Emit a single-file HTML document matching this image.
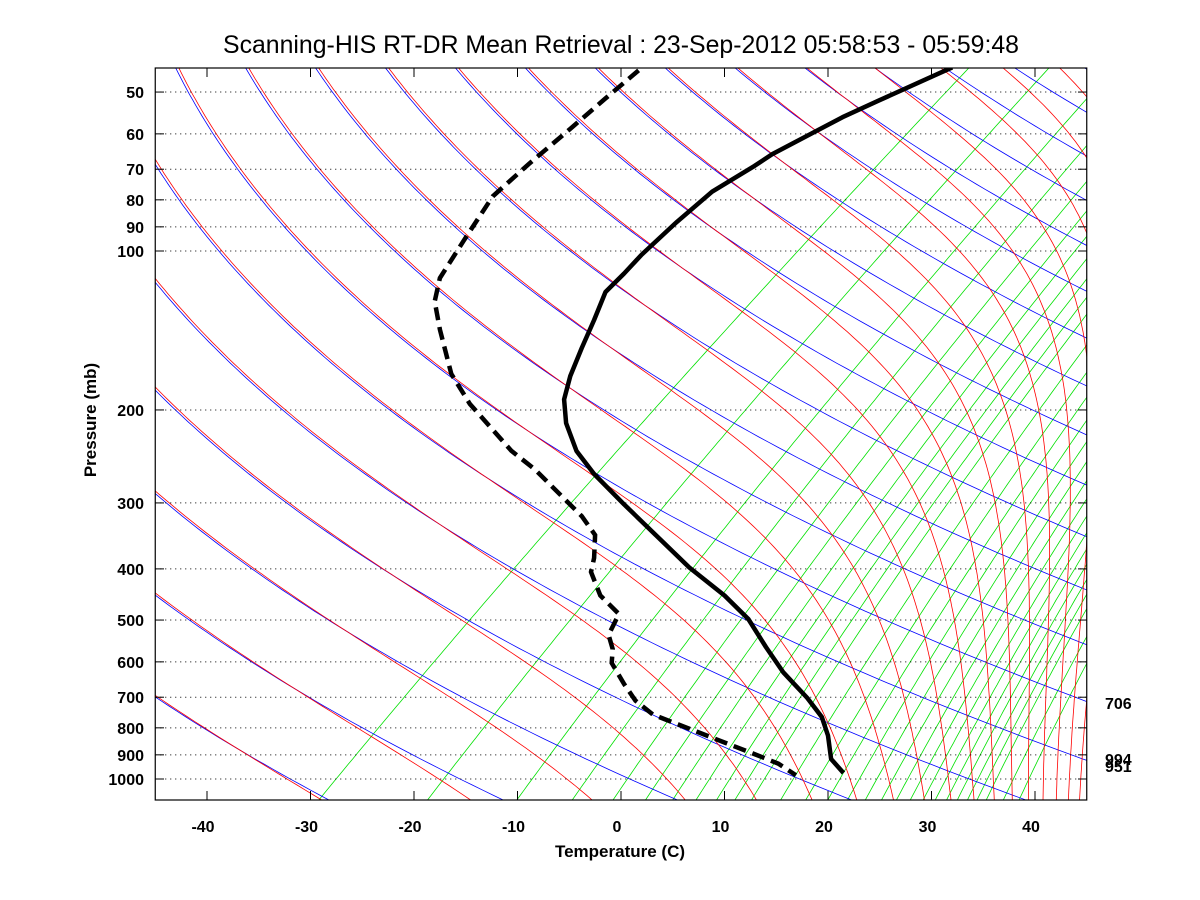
<!DOCTYPE html>
<html><head><meta charset="utf-8"><style>
html,body{margin:0;padding:0;background:#fff;}
svg{display:block;font-family:"Liberation Sans",Arial,sans-serif;}
</style></head><body>
<svg id="chart" width="1200" height="900" viewBox="0 0 1200 900" xmlns="http://www.w3.org/2000/svg">
<rect x="0" y="0" width="1200" height="900" fill="#fff"/>
<defs><clipPath id="clip"><rect x="155.25" y="68" width="931.5" height="732"/></clipPath></defs>
<text x="621" y="53" font-size="25" text-anchor="middle" textLength="796" lengthAdjust="spacingAndGlyphs">Scanning-HIS RT-DR Mean Retrieval : 23-Sep-2012 05:58:53 - 05:59:48</text>
<g id="bg" clip-path="url(#clip)"></g>
<g id="grid"></g>
<g id="prof" clip-path="url(#clip)"></g>
<rect x="155.25" y="68" width="931.5" height="732" fill="none" stroke="#000" stroke-width="1.2"/>
<g id="axes"></g>
<text x="620" y="857" font-size="17" font-weight="bold" text-anchor="middle">Temperature (C)</text>
<text x="0" y="0" font-size="17" font-weight="bold" text-anchor="middle" transform="translate(96,420) rotate(-90)">Pressure (mb)</text>
<text x="1105" y="709" font-size="16" font-weight="bold">706</text>
<text x="1105" y="765" font-size="16" font-weight="bold">994</text>
<text x="1105" y="772" font-size="16" font-weight="bold">951</text>
</svg>
<script>
// data: pressure (mb) and temperature on skewed x-axis scale (C)
const tempP = [44.9,51.9,55.8,65.6,69.0,77.2,88.1,101.6,110.3,119.6,135.1,152.7,172.5,191.0,211.8,239.2,264.4,302.0,397.6,449.2,497.7,562.3,628.8,702.5,763.2,827.5,916.4,974.2];
const tempT = [32.0,24.9,21.4,14.6,12.9,8.8,5.4,2.0,0.3,-1.5,-2.6,-3.8,-4.9,-5.5,-5.3,-4.3,-2.6,0.3,6.6,10.0,12.3,14.0,15.7,18.0,19.4,20.0,20.3,21.5];
const dewP = [45.5,51.4,58.7,68.4,78.8,95.6,112.5,124.6,140.8,170.9,194.9,238.9,259.4,317.7,345.0,381.5,405.5,449.2,486.9,533.5,567.4,603.0,660.7,710.6,755.5,802.9,853.0,897.0,935.0,984.0];
const dewT = [1.7,-1.5,-4.9,-8.9,-12.4,-15.2,-17.5,-18.0,-17.5,-16.4,-14.6,-10.6,-8.3,-3.8,-2.5,-2.6,-2.9,-2.0,-0.2,-1.2,-0.8,-0.9,0.3,1.4,3.1,6.6,10.0,12.9,15.2,16.9];
const pTicks = [50,60,70,80,90,100,200,300,400,500,600,700,800,900,1000];
const tTicks = [-40,-30,-20,-10,0,10,20,30,40];
const mixW = [0.1,0.4,1,2,3,4,5,6,7,8,9,10,12,14,16,18,20,22,24,26,28,30,32,34,36,38,40,44,48];

const NS="http://www.w3.org/2000/svg";
const S=67;
function xD(d){return 207+(d+40)*10.35;}
function yP(p){return 779-528*Math.log10(1000/p);}
function skewD(tc,p){return tc+S*Math.log10(1000/p);}
function mk(tag,attrs,parent){const e=document.createElementNS(NS,tag);for(const k in attrs)e.setAttribute(k,attrs[k]);parent.appendChild(e);return e;}
const bg=document.getElementById('bg'),grid=document.getElementById('grid'),prof=document.getElementById('prof'),axes=document.getElementById('axes');
const ps=[];for(let i=0;i<=140;i++){ps.push(1100*Math.pow(44/1100,i/140));}
function pathFrom(pts){return pts.map((q,i)=>(i?'L':'M')+q[0].toFixed(1)+','+q[1].toFixed(1)).join('');}

// mixing ratio lines
mixW.forEach(w=>{
  const pts=[];
  for(const p of ps){
    const ws=w/1000, e=ws*p/(0.622+ws), l=Math.log(e/6.112);
    const tc=243.5*l/(17.67-l);
    const x=xD(skewD(tc,p)), y=yP(p);
    if(x-185 < 0.97*(793-y)) break;
    pts.push([x,y]);
  }
  if(pts.length>1){
    const el=mk('path',{d:pathFrom(pts),stroke:'#00e000','stroke-width':0.8,fill:'none'},bg);
    
    
  }
});
// dry adiabats (blue) and moist adiabats (red)
function esat(tk){const tc=tk-273.15;return 6.112*Math.exp(17.67*tc/(tc+243.5));}
function thetaE(tk,p){const e=esat(tk);if(e>0.6*p)return 1e9;const ws=0.622*e/(p-e);return tk*Math.pow(1000/p,0.286)*Math.exp(2490*ws/tk);}
for(let k=-4;k<=22;k++){
  const th=241.2+16.4*k;
  const bp=ps.map(p=>{const tk=th*Math.pow(p/1000,0.286);return [xD(skewD(tk-273.15,p)),yP(p)];});
  const eb=mk('path',{d:pathFrom(bp),stroke:'#0000ff','stroke-width':0.8,fill:'none'},bg);
  
  
  const rp=[];
  for(const p of ps){
    let lo=120,hi=340;
    for(let it=0;it<40;it++){const m=(lo+hi)/2;if(thetaE(m,p)<th)lo=m;else hi=m;}
    rp.push([xD(skewD((lo+hi)/2-273.15,p)+0.3),yP(p)]);
  }
  const er=mk('path',{d:pathFrom(rp),stroke:'#ff0000','stroke-width':0.8,fill:'none'},bg);
  
  
}
// pressure gridlines and ticks, labels
pTicks.forEach(p=>{
  const y=yP(p);
  const g=mk('line',{x1:155.25,x2:1086.75,y1:y,y2:y,stroke:'#000','stroke-width':1,'stroke-dasharray':'1,4'},grid);
  
  
  const t1=mk('line',{x1:155.25,x2:164,y1:y,y2:y,stroke:'#000','stroke-width':1},axes);
  
  
  const t2=mk('line',{x1:1078,x2:1086.75,y1:y,y2:y,stroke:'#000','stroke-width':1},axes);
  
  
  const tx=mk('text',{x:144,y:y+6,'font-size':16,'font-weight':'bold','text-anchor':'end'},axes);
  tx.textContent=p;
  
  
});
tTicks.forEach(t=>{
  const x=xD(t);
  const a=mk('line',{x1:x,x2:x,y1:800,y2:791,stroke:'#000','stroke-width':1},axes);
  
  
  const b=mk('line',{x1:x,x2:x,y1:68,y2:77,stroke:'#000','stroke-width':1},axes);
  
  
  const tx=mk('text',{x:x-4,y:832,'font-size':16,'font-weight':'bold','text-anchor':'middle'},axes);
  tx.textContent=t;
  
  
});
// profiles
const tpts=tempP.map((p,i)=>[xD(tempT[i]),yP(p)]);
const tl=mk('path',{d:pathFrom(tpts),stroke:'#000','stroke-width':4.5,fill:'none','stroke-linejoin':'round'},prof);


const dpts=dewP.map((p,i)=>[xD(dewT[i]),yP(p)]);
const dl=mk('path',{d:pathFrom(dpts),stroke:'#000','stroke-width':4.5,fill:'none','stroke-dasharray':'13,7'},prof);


</script>
</body></html>
